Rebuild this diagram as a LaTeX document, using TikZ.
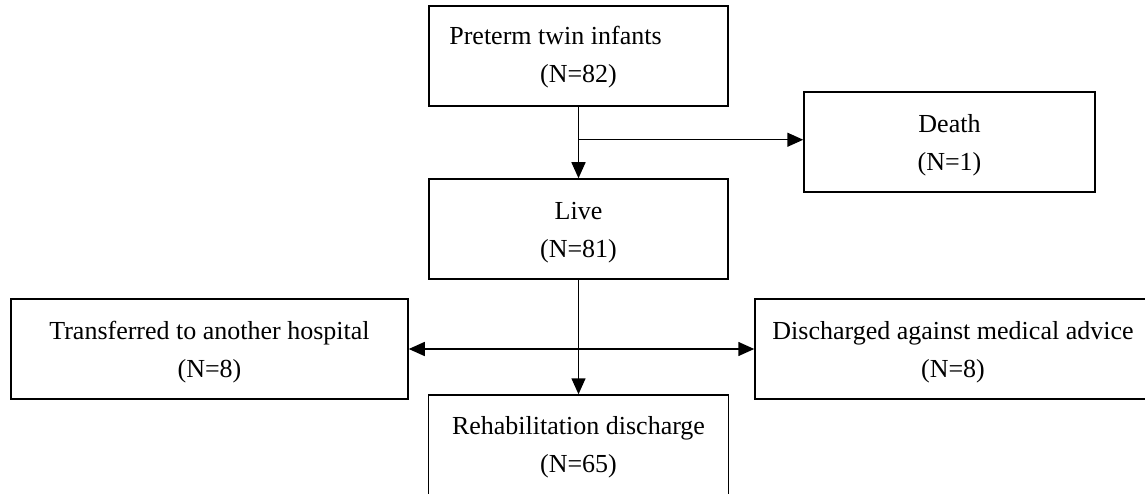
\documentclass[tikz,border=0pt]{standalone}
\usepackage{fontspec}
\setmainfont{Liberation Serif}
\usetikzlibrary{arrows.meta}
\newcommand{\tstrut}[1]{\rule{0pt}{#1}}
\begin{document}
\begin{tikzpicture}[x=1pt,y=-1pt,
  box/.style={draw,line width=1.5pt,minimum height=100pt,inner sep=0pt,align=center,
    font=\fontsize{26}{38}\selectfont},
  arr/.style={line width=1.5pt,-{Triangle[length=16pt,width=14pt]}},
  darr/.style={line width=1.5pt,{Triangle[length=16pt,width=14pt]}-{Triangle[length=16pt,width=14pt]}}]
\useasboundingbox (0,0) rectangle (1145,494);
\clip (0,0) rectangle (1145,494);
\node[box,minimum width=299pt] (pre) at (578.5,56) {\tstrut{21pt}Preterm twin infants\hspace*{46pt}\\(N=82)};
\node[box,minimum width=291pt] (death) at (949.5,142) {\tstrut{25pt}Death\\(N=1)};
\node[box,minimum width=299pt] (live) at (578.5,229) {\tstrut{24pt}Live\\(N=81)};
\node[box,minimum width=397pt] (trans) at (209.5,349) {\tstrut{24pt}Transferred to another hospital\\(N=8)};
\node[box,minimum width=396pt] (dis) at (953,349) {\tstrut{24pt}Discharged against medical advice\\(N=8)};
\node[box,minimum width=300pt] (rehab) at (578.5,445) {\tstrut{22pt}Rehabilitation discharge\\(N=65)};
\coordinate (br) at ([yshift=-33pt]pre.south);
\draw[arr] (pre.south) -- (live.north);
\draw[arr] (br) -- (br -| death.west);
\draw[arr] (live.south) -- (rehab.north);
\draw[darr] (trans.east) -- (dis.west);
\end{tikzpicture}
\end{document}
